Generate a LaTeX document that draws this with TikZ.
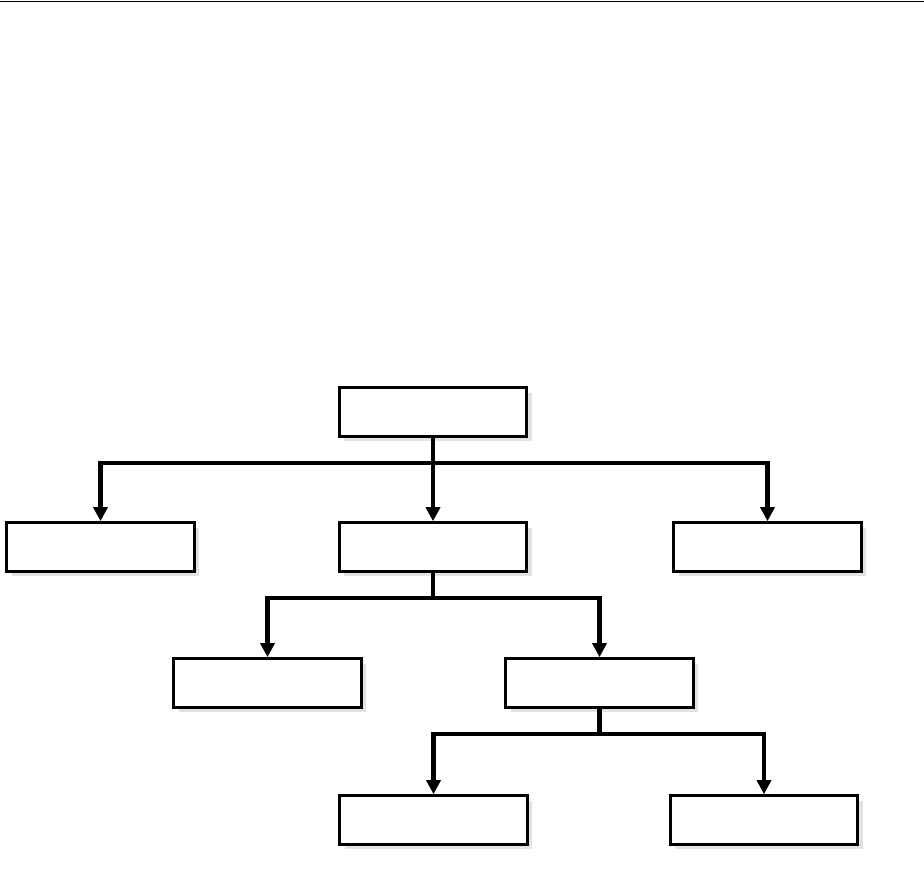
\documentclass[tikz,border=0pt]{standalone}
\usepackage{xcolor}
\usepackage{tikz}
\usetikzlibrary{arrows.meta, shadows}
\definecolor{mydark}{RGB}{0,0,0}
\definecolor{myshade}{RGB}{226,226,226}
\tikzset{
  box/.style={rectangle, draw=mydark, fill=white,
    minimum width=3.75cm, minimum height=0.97cm, line width=1.8pt,
    drop shadow={shadow xshift=0.1cm, shadow yshift=-0.1cm, fill=myshade, opacity=1}},
  arrow/.style={-{Triangle[width=8pt,length=8pt]}, line width=2.3pt, color=mydark},
  line/.style={line width=2.3pt, color=mydark}
}
\begin{document}
\begin{tikzpicture}
  \useasboundingbox (0,0) rectangle (18.48,-17.42);
  % Top rule
  \draw[line width=0.9pt, color=mydark] (0,-0.03) -- (18.48,-0.03);

  % Root
  \node[box] (root) at (8.66,-8.24) {};
  % Level 1
  \node[box] (left) at (2.01,-10.94) {};
  \node[box] (mid) at (8.66,-10.94) {};
  \node[box] (right) at (15.35,-10.94) {};
  % Level 2
  \node[box] (midl) at (5.35,-13.66) {};
  \node[box] (midr) at (11.99,-13.66) {};
  % Level 3
  \node[box] (leafl) at (8.67,-16.40) {};
  \node[box] (leafr) at (15.28,-16.40) {};

  % Root to level 1
  \draw[line] (root.south) -- ++(0,-0.5) coordinate (bus1);
  \draw[arrow] (bus1) -| (left.north);
  \draw[arrow] (bus1) -- (mid.north);
  \draw[arrow] (bus1) -| (right.north);

  % Level 1 to level 2
  \draw[line] (mid.south) -- ++(0,-0.5) coordinate (bus2);
  \draw[arrow] (bus2) -| (midl.north);
  \draw[arrow] (bus2) -| (midr.north);

  % Level 2 to level 3
  \draw[line] (midr.south) -- ++(0,-0.5) coordinate (bus3);
  \draw[arrow] (bus3) -| (leafl.north);
  \draw[arrow] (bus3) -| (leafr.north);
\end{tikzpicture}
\end{document}
